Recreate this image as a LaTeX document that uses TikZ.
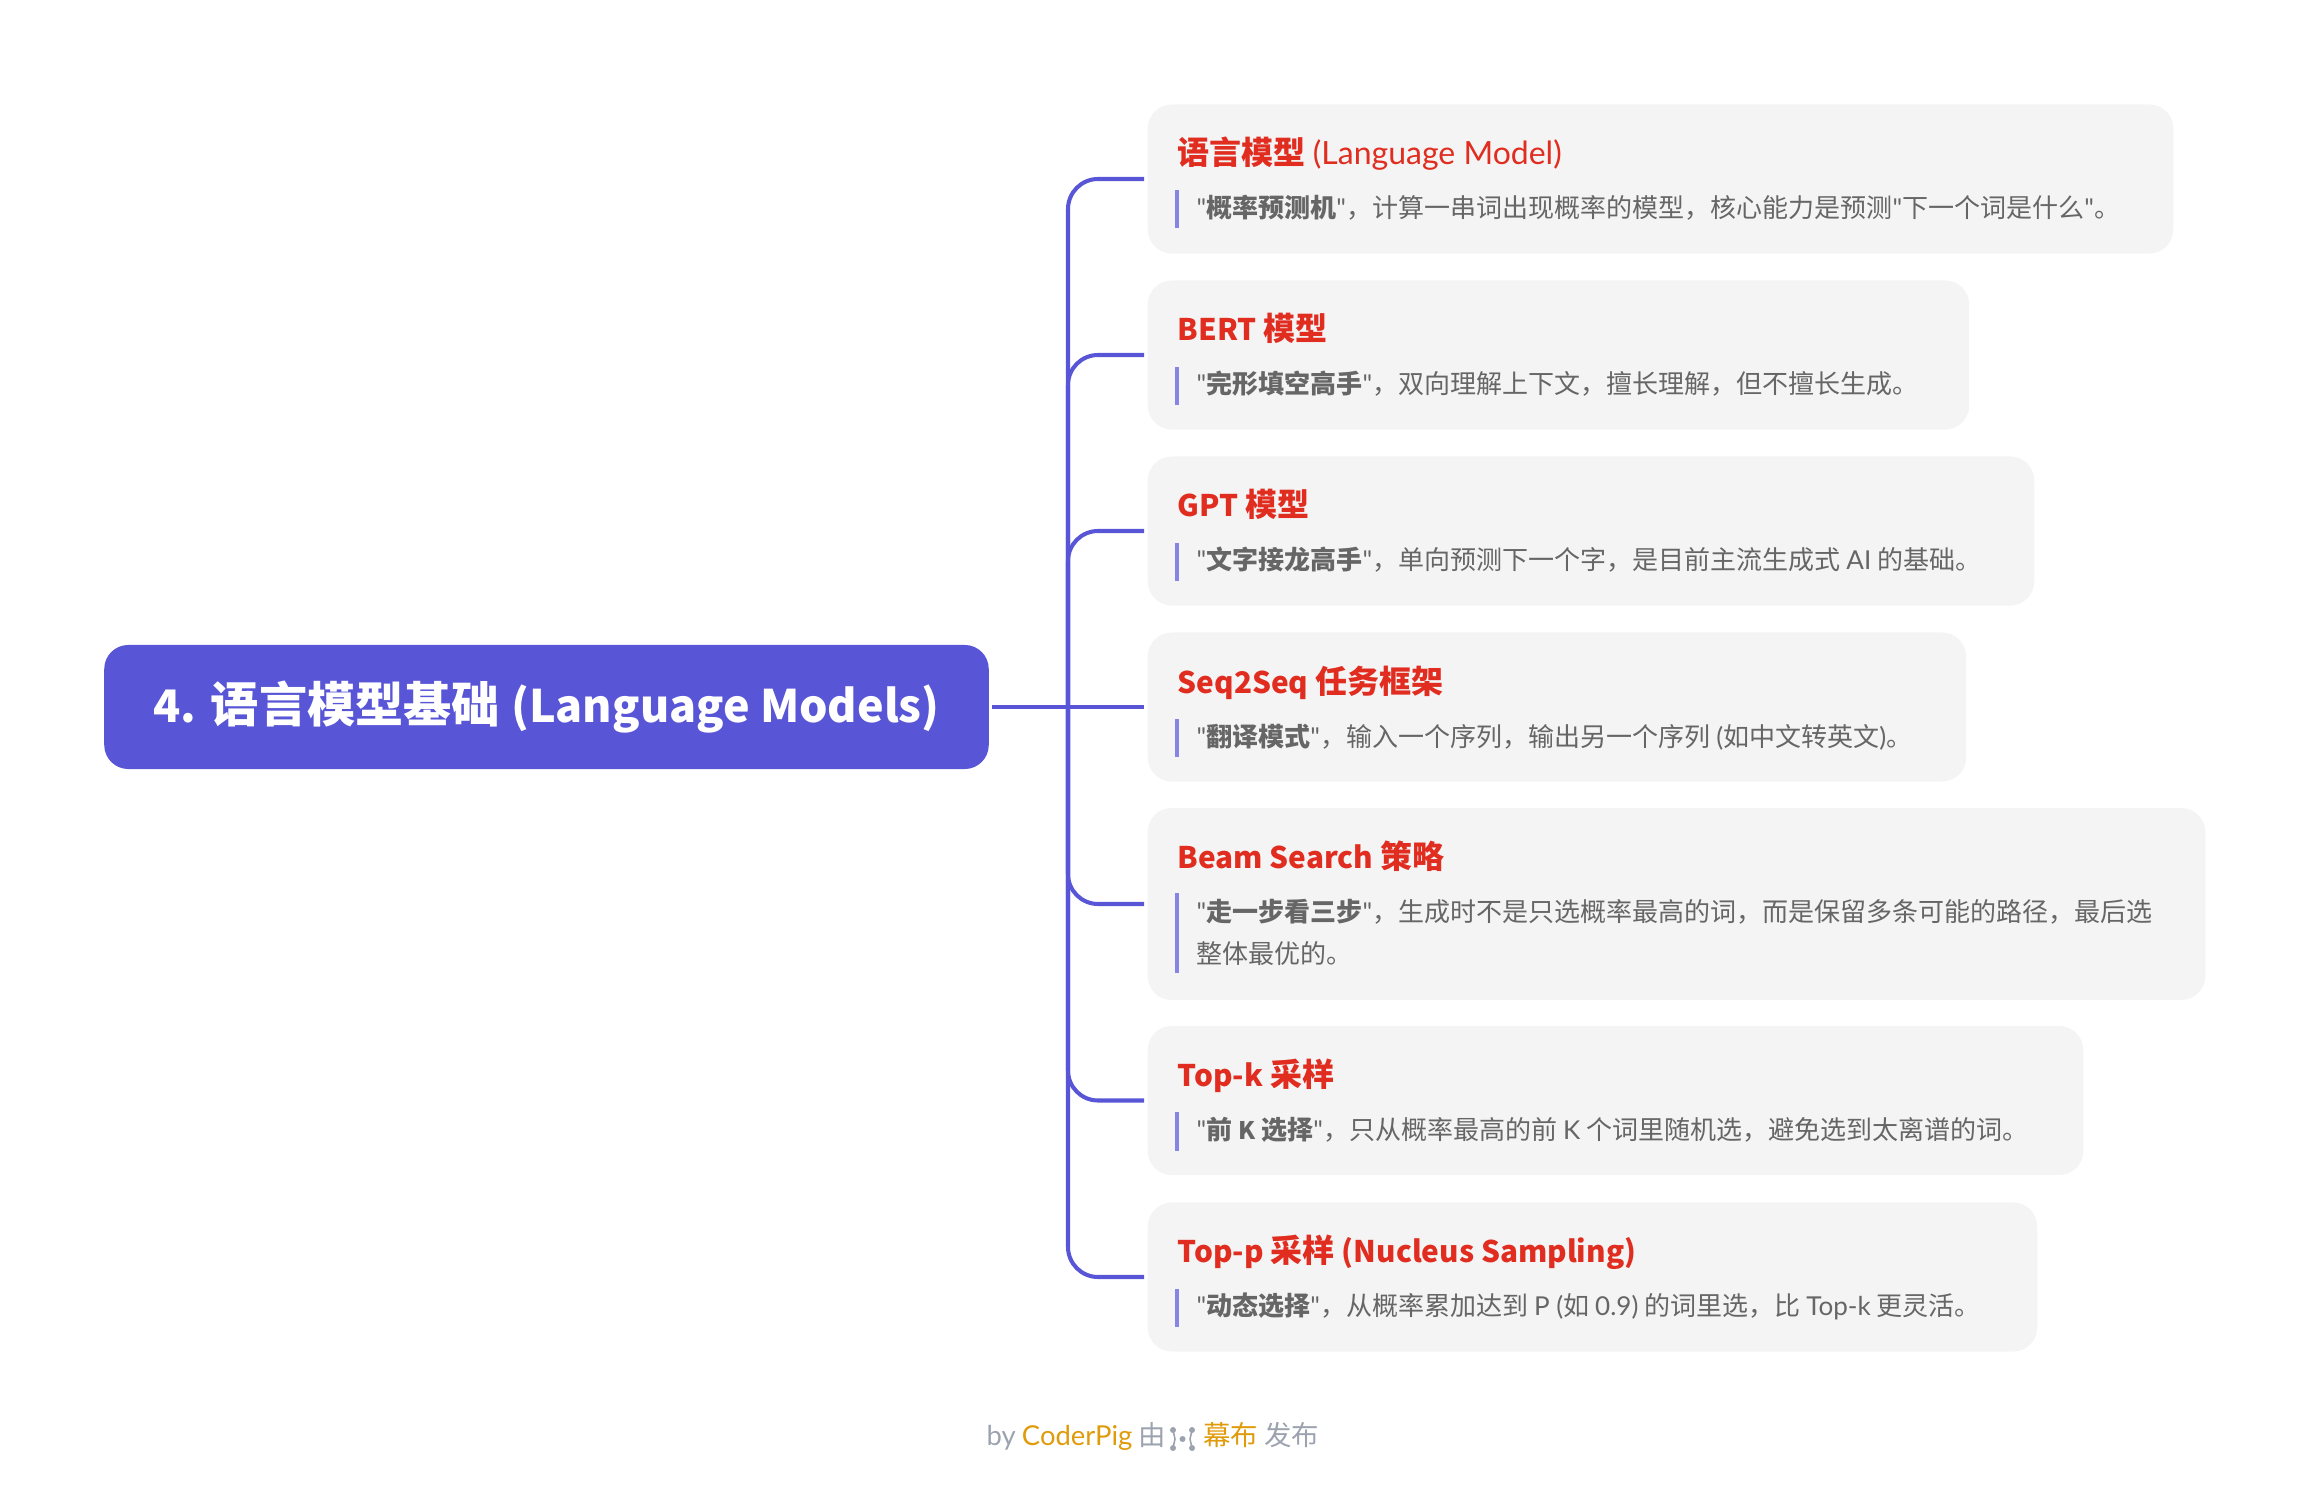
\documentclass[tikz,border=0pt]{standalone}
\usepackage{fontspec}
\setmainfont{Noto Sans CJK SC}
\newfontfamily\enfont{Lato}
\newfontfamily\enbfont[Scale=0.93]{Noto Sans CJK SC}
\newcommand{\en}[1]{{\enfont #1}}
\newcommand{\enb}[1]{{\enbfont\bfseries #1}}
\definecolor{rootblue}{HTML}{5856D6}
\definecolor{barblue}{HTML}{8685E3}
\definecolor{cardgray}{HTML}{F4F4F4}
\definecolor{titlered}{HTML}{E02D20}
\definecolor{desctext}{HTML}{666666}
\definecolor{footgray}{HTML}{9CA3AF}
\definecolor{footgold}{HTML}{E09B0B}
\begin{document}
\begin{tikzpicture}[
    x=0.01cm,
    y=-0.01cm,
    rootbox/.style={
        fill=rootblue,
        rounded corners=0.24cm,
        minimum width=8.84cm,
        minimum height=1.24cm,
        text=white,
        inner sep=0pt,
        font=\fontsize{13.7}{16}\selectfont\bfseries
    },
    cardbox/.style={
        fill=cardgray,
        rounded corners=0.24cm,
        minimum height=1.49cm,
        inner sep=0pt,
        anchor=west
    },
    cardtitle/.style={
        anchor=base west,
        inner sep=0pt,
        text=titlered,
        font=\fontsize{9.1}{11}\selectfont
    },
    carddesc/.style={
        anchor=base west,
        inner sep=0pt,
        align=left,
        text=desctext,
        font=\fontsize{7.4}{11.7}\selectfont
    },
    accentbar/.style={
        fill=barblue,
        inner sep=0pt,
        minimum width=0.035cm,
        minimum height=0.38cm
    },
    link/.style={
        draw=rootblue,
        line width=1.15pt,
        rounded corners=0.3cm,
        shorten >=0.03cm
    }
]
    \useasboundingbox (0,0) rectangle (2307,1486);

    \node[rootbox] (root) at (546.5,707) {\enb{4.} 语言模型基础 \enb{(Language Models)}};
    \coordinate (hub) at (1068,707);

    \node[cardbox,minimum width=10.25cm] (card1) at (1147,179) {};
    \node[cardtitle] (title1) at (1177,165) {\textbf{语言模型} \en{(Language Model)}};
    \node[accentbar] (bar1) at (1177,209) {};
    \node[carddesc] (desc1) at (1196,218) {\en{"}\textbf{概率预测机}\en{"}，计算一串词出现概率的模型，核心能力是预测\en{"}下一个词是什么\en{"}。};

    \node[cardbox,minimum width=8.21cm] (card2) at (1147,355) {};
    \node[cardtitle] (title2) at (1177,341) {\enb{BERT} \textbf{模型}};
    \node[accentbar] (bar2) at (1177,386) {};
    \node[carddesc] (desc2) at (1196,394) {\en{"}\textbf{完形填空高手}\en{"}，双向理解上下文，擅长理解，但不擅长生成。};

    \node[cardbox,minimum width=8.86cm] (card3) at (1147,531) {};
    \node[cardtitle] (title3) at (1177,517) {\enb{GPT} \textbf{模型}};
    \node[accentbar] (bar3) at (1177,562) {};
    \node[carddesc] (desc3) at (1196,570) {\en{"}\textbf{文字接龙高手}\en{"}，单向预测下一个字，是目前主流生成式 \en{AI} 的基础。};

    \node[cardbox,minimum width=8.18cm] (card4) at (1147,707) {};
    \node[cardtitle] (title4) at (1177,693) {\enb{Seq2Seq} \textbf{任务框架}};
    \node[accentbar] (bar4) at (1177,738) {};
    \node[carddesc] (desc4) at (1196,746) {\en{"}\textbf{翻译模式}\en{"}，输入一个序列，输出另一个序列 \en{(}如中文转英文\en{)}。};

    \node[cardbox,minimum width=10.57cm,minimum height=1.92cm] (card5) at (1147,904) {};
    \node[cardtitle] (title5) at (1177,868) {\enb{Beam Search} \textbf{策略}};
    \node[accentbar,minimum height=0.8cm] (bar5) at (1177,933) {};
    \node[carddesc] (desc5) at (1196,963) {\en{"}\textbf{走一步看三步}\en{"}，生成时不是只选概率最高的词，而是保留多条可能的路径，最后选\\整体最优的。};

    \node[cardbox,minimum width=9.35cm] (card6) at (1147,1100.5) {};
    \node[cardtitle] (title6) at (1177,1086) {\enb{Top-k} \textbf{采样}};
    \node[accentbar] (bar6) at (1177,1131.5) {};
    \node[carddesc] (desc6) at (1196,1139) {\en{"}\textbf{前} \enb{K} \textbf{选择}\en{"}，只从概率最高的前 \en{K} 个词里随机选，避免选到太离谱的词。};

    \node[cardbox,minimum width=8.89cm] (card7) at (1147,1277) {};
    \node[cardtitle] (title7) at (1177,1262) {\enb{Top-p} \textbf{采样} \enb{(Nucleus Sampling)}};
    \node[accentbar] (bar7) at (1177,1308) {};
    \node[carddesc] (desc7) at (1196,1315) {\en{"}\textbf{动态选择}\en{"}，从概率累加达到 \en{P (}如 \en{0.9)} 的词里选，比 \en{Top-k} 更灵活。};

    \draw[link,shorten <=0.03cm] (root) -- (card4);
    \draw[link] (hub) |- (card1);
    \draw[link] (hub) |- (card2);
    \draw[link] (hub) |- (card3);
    \draw[link] (hub) |- (card5);
    \draw[link] (hub) |- (card6);
    \draw[link] (hub) |- (card7);

    \node[inner sep=0pt,text=footgray,font=\fontsize{7.8}{10}\selectfont] (footer) at (1153,1436)
        {\en{by} \textcolor{footgold}{\en{CoderPig}} 由 \hspace{7.2pt} \textcolor{footgold}{幕布} 发布};

    % little mark inside the footer
    \fill[footgray] (1173,1430) circle (3) (1173,1448) circle (3)
        (1192,1430) circle (3) (1192,1448) circle (3) (1182.5,1439) circle (3);
    \draw[footgray,line width=0.45pt] (1173,1430) -- (1175,1439) -- (1173,1448);
    \draw[footgray,line width=0.45pt] (1192,1430) -- (1190,1439) -- (1192,1448);
\end{tikzpicture}
\end{document}
